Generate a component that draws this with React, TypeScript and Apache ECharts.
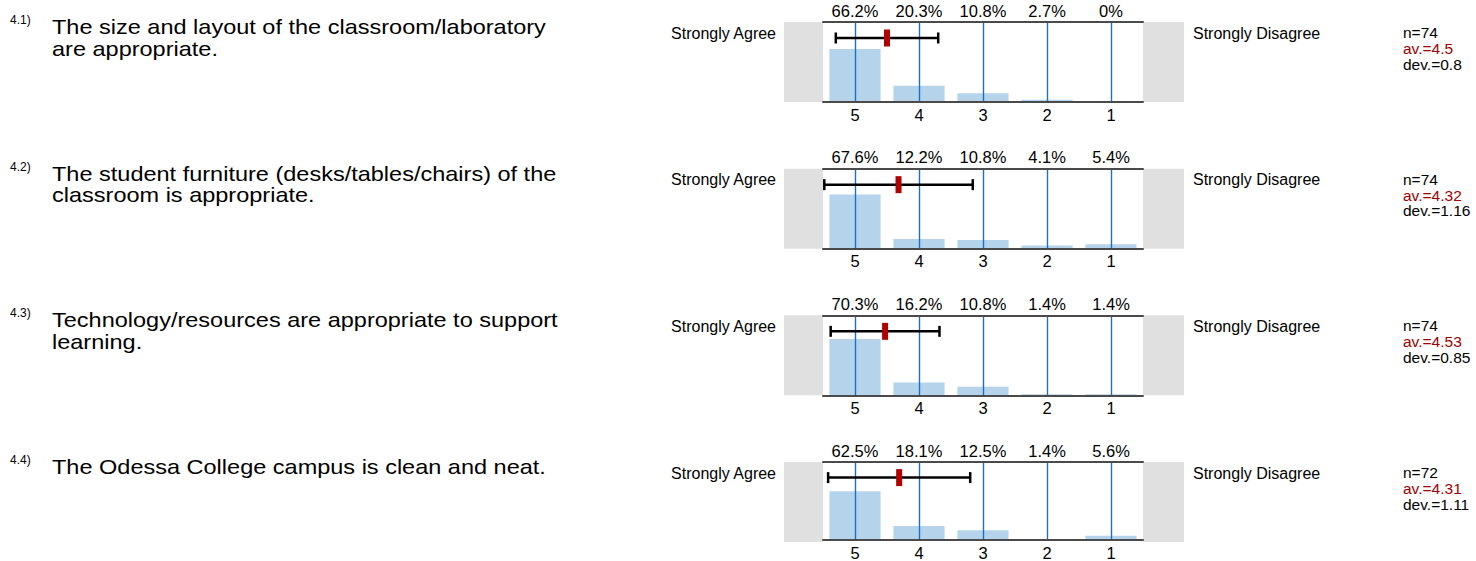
import React, { useEffect, useRef } from "react";
import * as echarts from "echarts";

const categories = ["5", "4", "3", "2", "1"];
const questionNumbers = ["4.1)", "4.2)", "4.3)", "4.4)"];
const questionLines = [
  ["The size and layout of the classroom/laboratory", "are appropriate."],
  ["The student furniture (desks/tables/chairs) of the", "classroom is appropriate."],
  ["Technology/resources are appropriate to support", "learning."],
  ["The Odessa College campus is clean and neat."],
];
const percentQ1 = [66.2, 20.3, 10.8, 2.7, 0];
const percentQ2 = [67.6, 12.2, 10.8, 4.1, 5.4];
const percentQ3 = [70.3, 16.2, 10.8, 1.4, 1.4];
const percentQ4 = [62.5, 18.1, 12.5, 1.4, 5.6];
const percents = [percentQ1, percentQ2, percentQ3, percentQ4];
const nValues = [74, 74, 74, 72];
const means = [4.5, 4.32, 4.53, 4.31];
const devs = [0.8, 1.16, 0.85, 1.11];
const leftLabel = "Strongly Agree";
const rightLabel = "Strongly Disagree";

const FONT = "Liberation Sans, Arial, Helvetica, sans-serif";
const GRID_LEFT = 823;
const GRID_WIDTH = 320;
const GRID_HEIGHT = 80;
const FIRST_TOP = 22;
const STEP = 146.67;

export default function App() {
  const ref = useRef<HTMLDivElement>(null);
  useEffect(() => {
    if (!ref.current) return;
    const chart = echarts.init(ref.current, null, { renderer: "svg" });
    const grids: any[] = [];
    const xAxes: any[] = [];
    const yAxes: any[] = [];
    const series: any[] = [];
    const graphics: any[] = [];
    const axisLineStyle = { color: "#4a4a4a", width: 2 };

    percents.forEach((vals, i) => {
      const top = FIRST_TOP + i * STEP;
      grids.push({ left: GRID_LEFT, top, width: GRID_WIDTH, height: GRID_HEIGHT });
      xAxes.push({
        type: "category",
        gridIndex: i,
        position: "bottom",
        data: categories,
        axisLine: { show: true, lineStyle: axisLineStyle },
        axisTick: { show: false },
        axisLabel: { color: "#000", fontSize: 16.5, fontFamily: FONT, margin: 4 },
        splitLine: { show: false },
        z: 5,
      });
      xAxes.push({
        type: "category",
        gridIndex: i,
        position: "top",
        data: vals.map((v) => v + "%"),
        axisLine: { show: true, lineStyle: axisLineStyle },
        axisTick: { show: false },
        axisLabel: { color: "#000", fontSize: 16.5, fontFamily: FONT, margin: 3 },
        splitLine: { show: false },
        z: 5,
      });
      xAxes.push({
        type: "value",
        gridIndex: i,
        min: 0.5,
        max: 5.5,
        inverse: true,
        show: false,
      });
      yAxes.push({ type: "value", gridIndex: i, min: 0, max: 100, show: false });

      series.push({
        type: "bar",
        xAxisIndex: i * 3,
        yAxisIndex: i,
        data: vals,
        barWidth: "80%",
        itemStyle: { color: "#b5d4ec" },
        silent: true,
        markLine: {
          silent: true,
          symbol: ["none", "none"],
          label: { show: false },
          lineStyle: { color: "#1b6fc6", width: 1.4, type: "solid" },
          data: categories.map((c) => ({ xAxis: c })),
        },
      });
      series.push({
        type: "custom",
        xAxisIndex: i * 3 + 2,
        yAxisIndex: i,
        data: [[means[i], devs[i], 80]],
        encode: { x: 0, y: 2 },
        z: 10,
        silent: true,
        renderItem: (params: any, api: any) => {
          const m = api.value(0);
          const d = api.value(1);
          const yv = api.value(2);
          const pm = api.coord([m, yv]);
          const pa = api.coord([m + d, yv]);
          const pb = api.coord([m - d, yv]);
          const y = pm[1];
          const black = { stroke: "#000", lineWidth: 2.5 };
          return {
            type: "group",
            children: [
              { type: "line", shape: { x1: pa[0], y1: y, x2: pb[0], y2: y }, style: black },
              { type: "line", shape: { x1: pa[0], y1: y - 5.5, x2: pa[0], y2: y + 5.5 }, style: black },
              { type: "line", shape: { x1: pb[0], y1: y - 5.5, x2: pb[0], y2: y + 5.5 }, style: black },
              { type: "rect", shape: { x: pm[0] - 3, y: y - 8.5, width: 6, height: 17 }, style: { fill: "#b00000" } },
            ],
          };
        },
      });

      graphics.push({ type: "rect", shape: { x: 784, y: top, width: 39, height: GRID_HEIGHT }, style: { fill: "#e0e0e0" }, z: 0 });
      graphics.push({ type: "rect", shape: { x: 1143, y: top, width: 41, height: GRID_HEIGHT }, style: { fill: "#e0e0e0" }, z: 0 });
      graphics.push({
        type: "text", x: 776, y: top + 11,
        style: { text: leftLabel, fill: "#000", font: `16px ${FONT}`, textAlign: "right", textVerticalAlign: "middle" },
      });
      graphics.push({
        type: "text", x: 1193, y: top + 11,
        style: { text: rightLabel, fill: "#000", font: `16px ${FONT}`, textAlign: "left", textVerticalAlign: "middle" },
      });
      graphics.push({
        type: "text", x: 1403, y: top + 10.5,
        style: { text: "n=" + nValues[i], fill: "#000", font: `15.5px ${FONT}`, textAlign: "left", textVerticalAlign: "middle" },
      });
      graphics.push({
        type: "text", x: 1403, y: top + 26.5,
        style: { text: "av.=" + means[i], fill: "#a00000", font: `15.5px ${FONT}`, textAlign: "left", textVerticalAlign: "middle" },
      });
      graphics.push({
        type: "text", x: 1403, y: top + 42,
        style: { text: "dev.=" + devs[i], fill: "#000", font: `15.5px ${FONT}`, textAlign: "left", textVerticalAlign: "middle" },
      });
      graphics.push({
        type: "text", x: 10, y: top - 2,
        style: { text: questionNumbers[i], fill: "#000", font: `12px ${FONT}`, textAlign: "left", textVerticalAlign: "middle" },
      });
      questionLines[i].forEach((line, j) => {
        graphics.push({
          type: "text", x: 52, y: top + 5 + j * 21.5,
          scaleX: 1.12,
          style: { text: line, fill: "#000", font: `21px ${FONT}`, textAlign: "left", textVerticalAlign: "middle" },
        });
      });
    });

    chart.setOption({
      animation: false,
      backgroundColor: "#fff",
      grid: grids,
      xAxis: xAxes,
      yAxis: yAxes,
      series,
      graphic: graphics,
    });
    return () => chart.dispose();
  }, []);
  return (
    <div
      ref={ref}
      style={{ position: "fixed", left: 0, top: 0, width: 1476, height: 561 }}
    />
  );
}
